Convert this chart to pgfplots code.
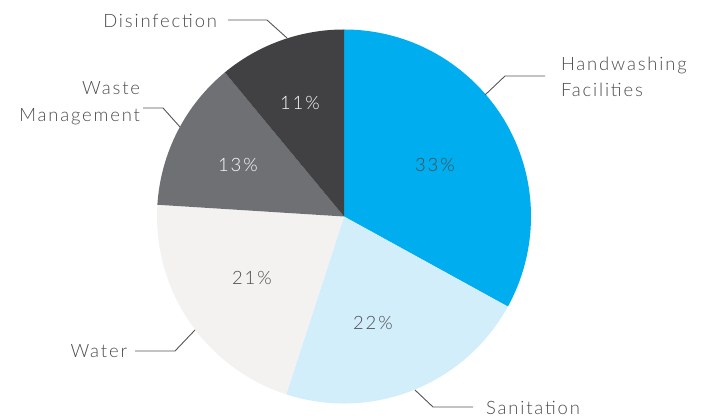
\documentclass[border=0pt]{standalone}
\usepackage{pgfplots}
\usepackage{pgfplotstable}
\pgfplotsset{compat=1.18}
\usepackage{fontspec}
\setmainfont{Lato}[UprightFont=* Light, LetterSpace=10]
\definecolor{cHand}{HTML}{00AEEF}
\definecolor{cSan}{HTML}{D2EEFB}
\definecolor{cWat}{HTML}{F3F2F1}
\definecolor{cWas}{HTML}{6F7073}
\definecolor{cDis}{HTML}{414143}
\definecolor{txt}{HTML}{4B4B4D}
\definecolor{lead}{HTML}{555557}
\tikzset{lbl/.style={font=\fontsize{18.5}{27}\selectfont, inner sep=0pt, outer sep=0pt}}

\pgfplotstableread{
name value
Handwashing 33
Sanitation 22
Water 21
Waste 13
Disinfection 11
}\piedata

\def\cum{90}
\foreach \i in {0,...,4}{%
  \pgfplotstablegetelem{\i}{value}\of\piedata
  \pgfmathsetmacro\endA{\cum-3.6*\pgfplotsretval}%
  \expandafter\xdef\csname sA\i\endcsname{\cum}%
  \expandafter\xdef\csname eA\i\endcsname{\endA}%
  \xdef\cum{\endA}%
}
\newcommand\sa[1]{\csname sA#1\endcsname}
\newcommand\ea[1]{\csname eA#1\endcsname}
\newcommand\pieslice[2]{%
  \fill[#2] (axis cs:344,202.5) -- ++(\sa{#1}:187bp)
    arc[start angle=\sa{#1}, end angle=\ea{#1}, radius=187bp] -- cycle;}

\begin{document}
\begin{tikzpicture}
\useasboundingbox (0,0) rectangle (705bp,419bp);
\begin{axis}[
  at={(0,0)}, anchor=south west,
  width=705bp, height=419bp, scale only axis,
  xmin=0, xmax=705, ymin=0, ymax=419,
  hide axis, clip=false,
]
\pieslice{0}{cHand}
\pieslice{1}{cSan}
\pieslice{2}{cWat}
\pieslice{3}{cWas}
\pieslice{4}{cDis}

% percent labels
\node[lbl, txt] at (axis cs:435,254) {33\kern2pt\%};
\node[lbl, txt] at (axis cs:373,96) {22\kern2pt\%};
\node[lbl, txt] at (axis cs:252,141) {21\kern2pt\%};
\node[lbl, white] at (axis cs:238,254) {13\kern2pt\%};
\node[lbl, white] at (axis cs:300,316) {11\kern2pt\%};

% leader lines
\draw[lead, line width=0.9bp] (axis cs:228,399) -- (axis cs:267,399) -- (axis cs:287,381);
\draw[lead, line width=0.9bp] (axis cs:143,311) -- (axis cs:163,311) -- (axis cs:180,292);
\draw[lead, line width=0.9bp] (axis cs:545,343) -- (axis cs:505,343) -- (axis cs:485,324);
\draw[lead, line width=0.9bp] (axis cs:135,68) -- (axis cs:175,68) -- (axis cs:195,89);
\draw[lead, line width=0.9bp] (axis cs:473,12) -- (axis cs:433,12) -- (axis cs:415,29);

% category labels
\node[lbl, txt, anchor=base east] at (axis cs:217,391) {Disinfection};
\node[lbl, txt, anchor=base east] at (axis cs:140,324) {Waste};
\node[lbl, txt, anchor=base east] at (axis cs:140,297) {Management};
\node[lbl, txt, anchor=base west] at (axis cs:561,348) {Handwashing};
\node[lbl, txt, anchor=base west] at (axis cs:561,322) {Facilities};
\node[lbl, txt, anchor=base east] at (axis cs:127,61) {Water};
\node[lbl, txt, anchor=base west] at (axis cs:486,5) {Sanitation};
\end{axis}
\end{tikzpicture}
\end{document}
